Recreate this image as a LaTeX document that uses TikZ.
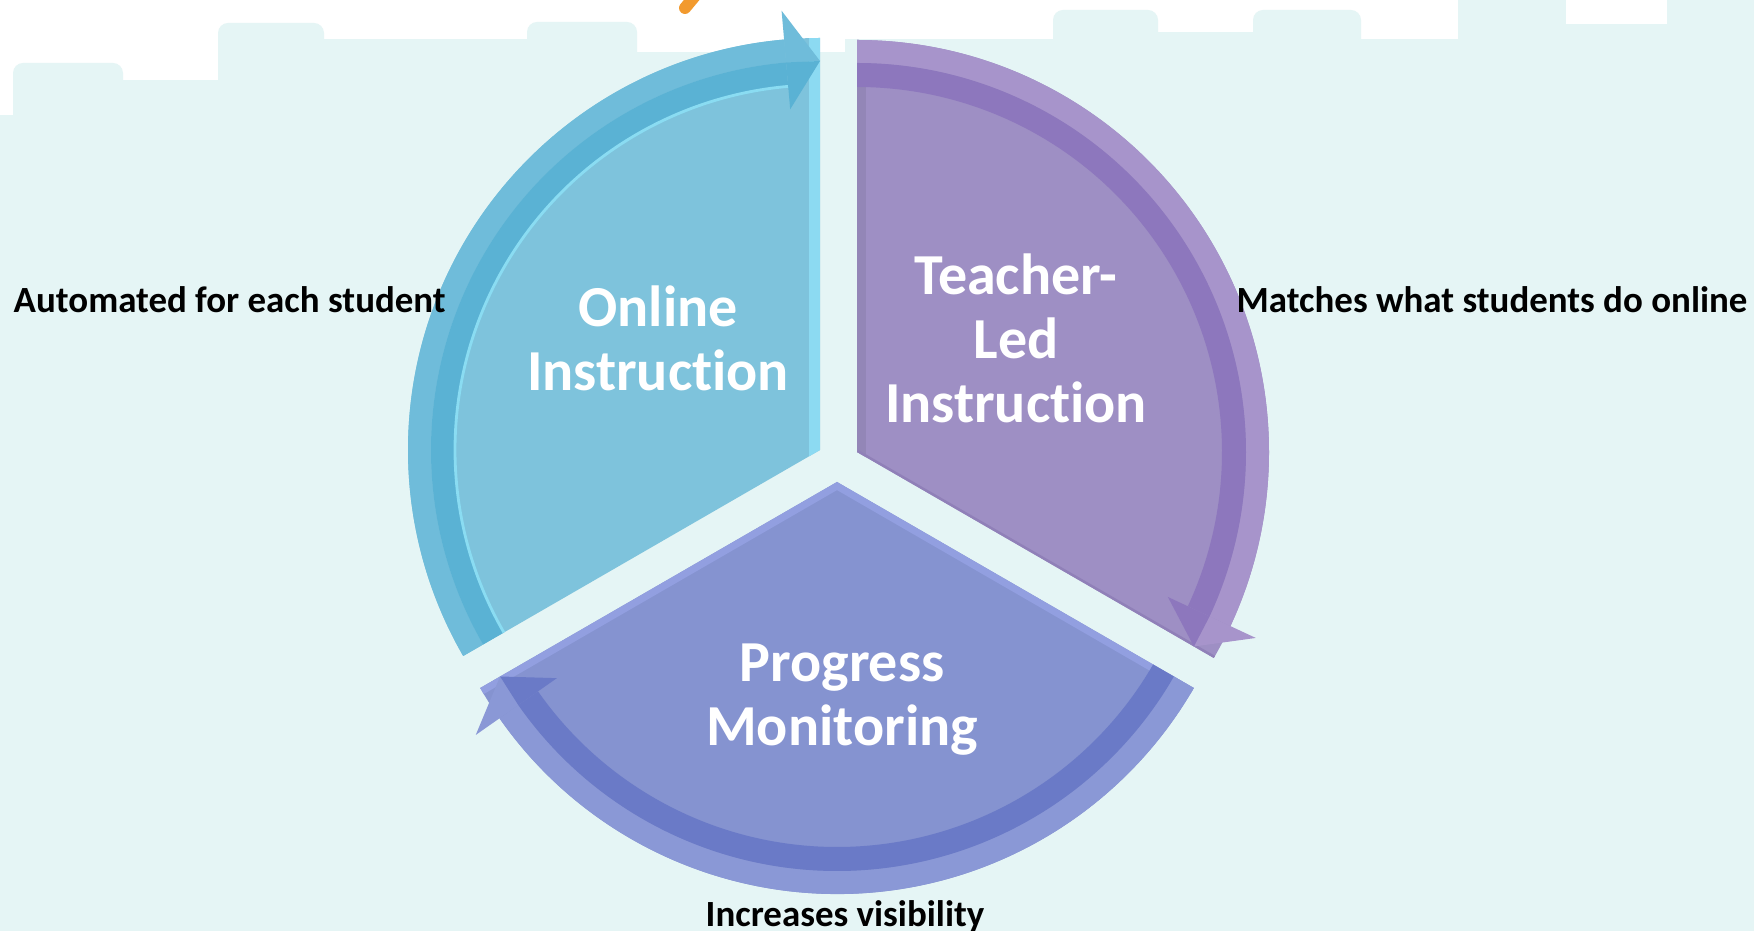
\documentclass[tikz,border=0pt]{standalone}
\usepackage{fontspec}
\setmainfont{Carlito}[Ligatures={NoCommon}]
\definecolor{bg}{HTML}{E5F5F5}
\definecolor{onfill}{HTML}{7EC3DC}
\definecolor{onout}{HTML}{6FBCDA}
\definecolor{oninn}{HTML}{5AB2D4}
\definecolor{onhl}{HTML}{8ADCF2}
\definecolor{onstrip}{HTML}{8CDAF2}
\definecolor{tfill}{HTML}{9E8FC4}
\definecolor{tout}{HTML}{A794CB}
\definecolor{tinn}{HTML}{8D77BD}
\definecolor{tstrip}{HTML}{9386B7}
\definecolor{tedge}{HTML}{9080B8}
\definecolor{pfill}{HTML}{8593D0}
\definecolor{pout}{HTML}{8A98D6}
\definecolor{pinn}{HTML}{6A7AC7}
\definecolor{plight}{HTML}{929FE0}
\definecolor{orangemark}{HTML}{F29A2E}
\begin{document}
\begin{tikzpicture}[x=0.01cm,y=0.01cm,
  seglabel/.style={text=white, font=\fontsize{16.5}{18.2}\selectfont\bfseries, align=center, inner sep=0pt},
  sidelabel/.style={text=black, font=\fontsize{10.5}{12.6}\selectfont\bfseries, inner sep=0pt}]
\useasboundingbox (0,0) rectangle (1754,-931);
% background and skyline
\fill[white] (0,0) rectangle (1754,-931);
\fill[bg] (0,-115) rectangle (1754,-931);
\foreach \a/\b/\t in {123/218/80, 324/527/39, 637/845/52, 845/1053/39, 1158/1253/32, 1361/1458/39, 1458/1566/0, 1566/1667/24, 1667/1754/0}
  \fill[bg] (\a,-200) rectangle (\b,-\t);
\foreach \a/\b/\t in {13/123/63, 218/324/23, 527/637/22, 1053/1158/10, 1253/1361/10}
  \fill[bg, rounded corners=1mm] (\a,-200) rectangle (\b,-\t);
% orange mark at top
\draw[orangemark, line width=3.4pt, line cap=round] (695,4) -- (685,-8);
% Online segment
\begin{scope}[shift={(820,-450)}]
  \fill[onfill] (0,0) -- (90:412) arc[start angle=90,end angle=210,radius=412] -- cycle;
  \begin{scope}
    \clip (0,0) -- (90:412) arc[start angle=90,end angle=210,radius=412] -- cycle;
    \fill[onstrip] (-11,-30) rectangle (0,430);
  \end{scope}
  \fill[onout] (210:412) arc[start angle=210,end angle=95,radius=412] -- (95:389) arc[start angle=95,end angle=210,radius=389] -- cycle;
  \fill[oninn] (210:389) arc[start angle=210,end angle=95,radius=389] -- (95:365) arc[start angle=95,end angle=210,radius=365] -- cycle;
  \draw[onhl, line width=0.8pt] (210:365) arc[start angle=210,end angle=95,radius=365];
  \fill[onout] (95:441) -- (90:389) -- (95:389) -- cycle;
  \fill[oninn] (95:389) -- (90:389) -- (95:342) -- cycle;
\end{scope}
% Teacher-led segment
\begin{scope}[shift={(857,-452)}]
  \fill[tfill] (0,0) -- (90:412) arc[start angle=90,end angle=-30,radius=412] -- cycle;
  \begin{scope}
    \clip (0,0) -- (90:412) arc[start angle=90,end angle=-30,radius=412] -- cycle;
    \fill[tstrip] (0,-30) rectangle (9,430);
    \draw[tedge, line width=1.4pt] (0,0) -- (-30:430);
  \end{scope}
  \fill[tout] (90:412) arc[start angle=90,end angle=-25,radius=412] -- (-25:389) arc[start angle=-25,end angle=90,radius=389] -- cycle;
  \fill[tinn] (90:389) arc[start angle=90,end angle=-25,radius=389] -- (-25:365) arc[start angle=-25,end angle=90,radius=365] -- cycle;
  \fill[tout] (-25:440) -- (-30:389) -- (-25:389) -- cycle;
  \fill[tinn] (-25:389) -- (-30:389) -- (-25:343) -- cycle;
\end{scope}
% Progress monitoring segment
\begin{scope}[shift={(837,-482)}]
  \fill[pfill] (0,0) -- (210:412) arc[start angle=210,end angle=330,radius=412] -- cycle;
  \begin{scope}
    \clip (0,0) -- (210:412) arc[start angle=210,end angle=330,radius=412] -- cycle;
    \draw[plight, line width=4pt] (210:430) -- (0,0) -- (330:430);
  \end{scope}
  \fill[pout] (330:412) arc[start angle=330,end angle=215,radius=412] -- (215:389) arc[start angle=215,end angle=330,radius=389] -- cycle;
  \fill[pinn] (330:389) arc[start angle=330,end angle=215,radius=389] -- (215:365) arc[start angle=215,end angle=330,radius=365] -- cycle;
  \fill[pout] (215:441) -- (210:389) -- (215:389) -- cycle;
  \fill[pinn] (215:389) -- (210:389) -- (215:342) -- cycle;
\end{scope}
% labels
\node[seglabel] (online) at (658,-338) {Online\\Instruction};
\node[seglabel] (teacher) at (1016,-338) {Teacher-\\Led\\Instruction};
\node[seglabel] (progress) at (842,-700) {Progress\\Monitoring};
\node[sidelabel, anchor=base west] (auto) at (13,-313) {Automated for each student};
\node[sidelabel, anchor=base west] (match) at (1236,-313) {Matches what students do online};
\node[sidelabel, anchor=base] (vis) at (845,-926) {Increases visibility};
\end{tikzpicture}
\end{document}
